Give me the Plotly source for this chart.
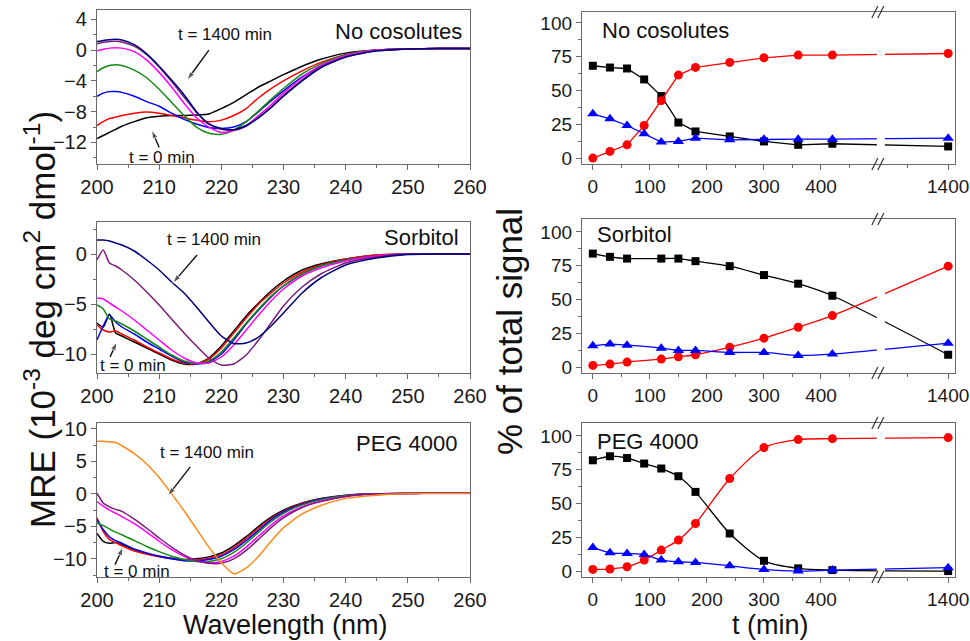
import plotly.graph_objects as go

# ---------------- data: CD spectra (MRE, 10^-3 deg cm^2 dmol^-1) ----------------
WL = [200, 201, 202, 203, 204, 206, 208, 210, 212, 214, 216, 218, 220, 222, 224,
      226, 228, 230, 233, 236, 240, 245, 250, 255, 260]

# No cosolutes
nc_black = [-11.5, -11.1, -10.7, -10.3, -9.9, -9.3, -8.8, -8.6, -8.5, -8.5, -8.45, -8.3, -7.6, -6.8, -5.8,
            -4.8, -4.0, -3.2, -2.1, -1.2, -0.4, 0.0, 0.15, 0.2, 0.2]
nc_red = [-9.8, -9.3, -8.9, -8.7, -8.5, -8.2, -8.05, -8.2, -8.5, -8.8, -9.1, -9.3, -9.1, -8.5, -7.6,
          -6.2, -5.0, -4.0, -2.7, -1.6, -0.6, 0.0, 0.15, 0.2, 0.2]
nc_blue = [-6.0, -5.6, -5.4, -5.4, -5.5, -6.0, -6.7, -7.3, -8.2, -9.0, -9.6, -10.05, -10.2, -10.0, -9.3,
           -8.0, -6.6, -5.3, -3.5, -2.1, -0.8, 0.0, 0.15, 0.2, 0.2]
nc_green = [-2.8, -2.3, -2.0, -1.9, -2.0, -2.6, -3.6, -5.1, -6.8, -8.5, -10.0, -10.8, -10.95, -10.4, -9.3,
            -7.9, -6.4, -5.0, -3.1, -1.8, -0.6, 0.0, 0.15, 0.2, 0.2]
nc_magenta = [-0.1, 0.1, 0.25, 0.3, 0.25, -0.2, -1.3, -2.9, -4.8, -6.9, -8.8, -10.0, -10.7, -10.45, -9.8,
              -8.5, -7.1, -5.6, -3.6, -2.0, -0.7, 0.0, 0.15, 0.2, 0.2]
nc_purple = [0.8, 1.0, 1.1, 1.15, 1.05, 0.5, -0.6, -2.2, -4.1, -6.1, -8.1, -9.6, -10.3, -10.4, -9.9,
             -8.7, -7.4, -5.9, -3.9, -2.2, -0.9, -0.1, 0.15, 0.2, 0.2]
nc_navy = [1.1, 1.25, 1.35, 1.4, 1.3, 0.7, -0.5, -2.1, -3.9, -5.8, -8.0, -9.6, -10.2, -10.35, -9.8,
           -8.8, -7.5, -6.0, -4.0, -2.3, -0.9, -0.1, 0.15, 0.2, 0.2]

# Sorbitol
so_black = [-6.9, -7.3, -6.0, -7.9, -8.2, -8.8, -9.4, -10.0, -10.6, -11.0, -11.0, -10.4, -9.2, -7.7, -6.2,
            -4.9, -3.7, -2.7, -1.6, -1.0, -0.5, -0.1, 0.0, 0.0, 0.0]
so_red = [-7.1, -7.6, -7.8, -7.7, -8.0, -8.6, -9.3, -9.9, -10.5, -10.9, -11.0, -10.5, -9.4, -7.9, -6.4,
          -5.0, -3.9, -2.9, -1.8, -1.1, -0.5, -0.1, 0.0, 0.0, 0.0]
so_blue = [-8.6, -7.2, -6.1, -6.8, -7.3, -8.0, -8.8, -9.5, -10.2, -10.8, -11.0, -10.8, -10.0, -8.6, -7.0,
           -5.6, -4.3, -3.2, -2.0, -1.2, -0.6, -0.2, 0.0, 0.0, 0.0]
so_green = [-5.1, -5.5, -6.5, -6.7, -7.0, -7.7, -8.5, -9.3, -10.1, -10.7, -10.95, -10.7, -9.8, -8.4, -6.9,
            -5.5, -4.2, -3.2, -2.0, -1.2, -0.6, -0.2, 0.0, 0.0, 0.0]
so_magenta = [-4.4, -4.5, -4.9, -5.3, -5.7, -6.6, -7.6, -8.6, -9.6, -10.4, -10.9, -10.9, -10.3, -9.1, -7.6,
              -6.1, -4.7, -3.5, -2.2, -1.4, -0.7, -0.2, 0.0, 0.0, 0.0]
so_purple = [-0.6, 0.4, -0.9, -1.2, -1.6, -2.6, -3.8, -5.1, -6.5, -7.9, -9.2, -10.4, -11.1, -11.0, -10.1,
             -8.6, -6.9, -5.2, -3.3, -2.0, -0.9, -0.3, 0.0, 0.0, 0.0]
so_navy = [1.4, 1.4, 1.3, 1.1, 0.9, 0.3, -0.6, -1.6, -2.8, -3.9, -5.3, -6.8, -8.2, -8.95, -8.9,
           -8.3, -7.2, -5.9, -3.9, -2.4, -1.1, -0.4, -0.05, 0.0, 0.0]

# PEG 4000
pe_black = [-6.1, -7.3, -7.6, -7.5, -7.8, -8.6, -9.2, -9.6, -9.9, -10.1, -10.0, -9.7, -9.1, -8.0, -6.6,
            -5.0, -3.6, -2.5, -1.4, -0.7, -0.2, 0.0, 0.05, 0.1, 0.1]
pe_red = [-3.7, -5.8, -7.0, -7.5, -8.0, -8.8, -9.3, -9.7, -10.0, -10.2, -10.2, -9.9, -9.4, -8.3, -6.9,
          -5.3, -3.8, -2.7, -1.5, -0.8, -0.3, 0.0, 0.05, 0.1, 0.1]
pe_blue = [-4.0, -5.5, -6.6, -7.2, -7.6, -8.5, -9.1, -9.6, -10.0, -10.3, -10.3, -10.1, -9.6, -8.6, -7.2,
           -5.6, -4.0, -2.8, -1.6, -0.8, -0.3, 0.0, 0.05, 0.1, 0.1]
pe_green = [-4.5, -4.9, -5.4, -5.9, -6.3, -7.2, -8.1, -8.9, -9.6, -10.1, -10.4, -10.4, -10.0, -9.0, -7.6,
            -5.9, -4.3, -3.0, -1.7, -0.9, -0.3, 0.0, 0.05, 0.1, 0.1]
pe_magenta = [-1.2, -1.9, -2.5, -3.0, -3.5, -4.6, -5.9, -7.3, -8.6, -9.6, -10.3, -10.6, -10.4, -9.6, -8.2,
              -6.5, -4.8, -3.4, -2.0, -1.1, -0.4, 0.0, 0.05, 0.1, 0.1]
pe_purple = [0.1, -1.4, -2.0, -2.4, -2.7, -3.9, -5.3, -6.8, -8.2, -9.4, -10.3, -10.7, -10.7, -10.0, -8.7,
             -7.0, -5.2, -3.7, -2.1, -1.2, -0.4, 0.0, 0.05, 0.1, 0.1]
pe_orange = [8.1, 8.1, 8.0, 7.9, 7.4, 6.2, 4.6, 2.5, 0.0, -2.6, -5.4, -8.2, -10.6, -12.3, -11.4,
             -9.6, -7.3, -5.2, -3.1, -1.8, -0.7, -0.2, 0.0, 0.05, 0.05]

# ---------------- data: % of total signal vs time ----------------
T_NC = [0, 30, 60, 90, 120, 150, 180, 240, 300, 360, 420, 1400]
nc_sq = [68.3, 67.0, 66.3, 58.2, 45.9, 26.3, 19.7, 16.0, 12.3, 9.8, 10.6, 8.6]
nc_ci = [0.0, 4.9, 9.8, 24.1, 42.5, 61.4, 67.1, 70.8, 74.2, 76.2, 76.2, 77.4]
nc_tr = [32.7, 29.0, 24.1, 17.9, 11.8, 12.3, 14.7, 13.5, 14.0, 14.0, 14.0, 14.7]

T_SO = [0, 30, 60, 120, 150, 180, 240, 300, 360, 420, 1400]
so_sq = [84.0, 81.6, 80.3, 80.3, 80.3, 78.4, 74.7, 68.1, 61.7, 52.8, 9.1]
so_ci = [1.2, 2.2, 3.7, 5.9, 7.6, 9.1, 14.7, 21.4, 29.5, 38.1, 74.7]
so_tr = [15.7, 17.0, 16.2, 14.0, 12.3, 12.3, 10.8, 10.8, 8.6, 9.6, 17.7]

T_PE = [0, 30, 60, 90, 120, 150, 180, 240, 300, 360, 420, 1400]
pe_sq = [82.0, 85.0, 83.7, 79.6, 75.9, 70.2, 58.6, 27.8, 7.6, 2.0, 0.7, 0.0]
pe_ci = [1.2, 1.5, 3.2, 8.1, 15.5, 22.9, 35.2, 68.5, 91.4, 97.3, 98.0, 98.8]
pe_tr = [17.5, 13.5, 13.0, 12.3, 8.1, 6.9, 6.4, 3.9, 1.2, 0.0, 0.7, 2.5]

X_TICKS_T = [0, 100, 200, 300, 400, 1400]

# ---------------- broken time axis ----------------
BREAK_POS = 505      # axis position of the break
LAST_POS = 623       # axis position used for t = 1400 min


def tpos(t):
    return t if t <= BREAK_POS else LAST_POS + (t - 1400)


FONT = "Liberation Sans, Arial, sans-serif"
COL = dict(black="#000000", red="#ff0000", blue="#0000ff", green="#138a13",
           magenta="#ff00ff", purple="#7a1a7a", navy="#00007a", orange="#ff8a1a")

fig = go.Figure()

spectra = [
    ("x", "y", [("black", nc_black), ("red", nc_red), ("blue", nc_blue), ("green", nc_green),
                ("magenta", nc_magenta), ("purple", nc_purple), ("navy", nc_navy)]),
    ("x2", "y2", [("black", so_black), ("red", so_red), ("blue", so_blue), ("green", so_green),
                  ("magenta", so_magenta), ("purple", so_purple), ("navy", so_navy)]),
    ("x3", "y3", [("black", pe_black), ("red", pe_red), ("blue", pe_blue), ("green", pe_green),
                  ("magenta", pe_magenta), ("purple", pe_purple), ("orange", pe_orange)]),
]
for xa, ya, curves in spectra:
    for cname, vals in curves:
        fig.add_trace(go.Scatter(x=WL, y=vals, xaxis=xa, yaxis=ya, mode="lines",
                                 line=dict(color=COL[cname], width=1.5, shape="spline", smoothing=0.6),
                                 showlegend=False, hoverinfo="skip"))

kinetics = [
    ("x4", "y4", T_NC, nc_sq, nc_ci, nc_tr, "linear"),
    ("x5", "y5", T_SO, so_sq, so_ci, so_tr, "spline"),
    ("x6", "y6", T_PE, pe_sq, pe_ci, pe_tr, "spline"),
]
for xa, ya, T, sq, ci, tr, shape in kinetics:
    xs = [tpos(t) for t in T]
    for vals, cname, sym, size in [(sq, "black", "square", 8), (ci, "red", "circle", 9),
                                   (tr, "blue", "triangle-up", 10)]:
        fig.add_trace(go.Scatter(x=xs, y=vals, xaxis=xa, yaxis=ya, mode="lines+markers",
                                 line=dict(color=COL[cname], width=1.3, shape=shape, smoothing=0.7),
                                 marker=dict(symbol=sym, size=size, color=COL[cname]),
                                 showlegend=False, hoverinfo="skip"))

# arrows pointing at t = 1400 min and t = 0 min curves (tail -> head, in data units)
ARROWS = [
    ("x", "y", (218.0, 0.0), (214.5, -3.9)),
    ("x", "y", (210.0, -12.65), (208.8, -10.4)),
    ("x2", "y2", (216.1, -0.1), (212.2, -2.9)),
    ("x2", "y2", (202.1, -10.3), (203.2, -8.8)),
    ("x3", "y3", (215.0, 4.15), (211.4, -0.3)),
    ("x3", "y3", (202.9, -10.9), (204.2, -8.2)),
]
for xa, ya, tail, head in ARROWS:
    fig.add_trace(go.Scatter(x=[tail[0], head[0]], y=[tail[1], head[1]], xaxis=xa, yaxis=ya,
                             mode="lines+markers", line=dict(color="#111", width=1.4),
                             marker=dict(symbol="arrow", size=[0, 9], color="#111",
                                         angleref="previous"),
                             showlegend=False, hoverinfo="skip"))

H = 641.0
W = 970.0


def ydom(top_px, bot_px):
    return [1 - bot_px / H, 1 - top_px / H]


LX = [97 / W, 470 / W]
RX = [582 / W, 955 / W]
AX_LINE = "#6a6a6a"
TICKFONT_L = dict(family=FONT, size=20, color="#1a1a1a")
TICKFONT_R = dict(family=FONT, size=19, color="#1a1a1a")

common = dict(showline=True, linecolor=AX_LINE, linewidth=1.3, mirror=True, ticks="outside",
              ticklen=5, tickwidth=1.2, tickcolor=AX_LINE, showgrid=False, zeroline=False,
              automargin=False)
minor_common = dict(ticks="outside", ticklen=3, tickwidth=1.1, tickcolor=AX_LINE, showgrid=False)

lay = dict(width=970, height=641, margin=dict(l=0, r=0, t=0, b=0, autoexpand=False),
           paper_bgcolor="white", plot_bgcolor="white", showlegend=False)

left_y = [([-14.8, 5.2], 4, 4, 2, ydom(10, 164)),
          ([-11.9, 3.2], 5, 0, 2.5, ydom(222, 373)),
          ([-12.8, 10.9], 5, 0, 2.5, ydom(423, 577))]
for i, (rng, dt, t0, mdt, dom) in enumerate(left_y):
    n = "" if i == 0 else str(i + 1)
    lay["xaxis" + n] = dict(common, domain=LX, range=[200, 260], dtick=10, tick0=200,
                            tickfont=TICKFONT_L, minor=dict(minor_common, dtick=5), anchor="y" + n)
    lay["yaxis" + n] = dict(common, domain=dom, range=rng, dtick=dt, tick0=t0,
                            tickfont=TICKFONT_L, minor=dict(minor_common, dtick=mdt), anchor="x" + n)

right_y = [ydom(12, 164), ydom(219, 373), ydom(423, 577)]
right_rng = [[-4.4, 108.1], [-4.4, 109.6], [-4.4, 109.6]]
for i in range(3):
    n = str(i + 4)
    lay["xaxis" + n] = dict(common, domain=RX, range=[-19, 635], tickmode="array",
                            tickvals=[tpos(t) for t in X_TICKS_T],
                            ticktext=[str(t) for t in X_TICKS_T], tickfont=TICKFONT_R,
                            minor=dict(minor_common, tickmode="array",
                                       tickvals=[50, 150, 250, 350, 450, 551]),
                            anchor="y" + n)
    lay["yaxis" + n] = dict(common, domain=right_y[i], range=right_rng[i], dtick=25, tick0=0,
                            tickfont=TICKFONT_R, minor=dict(minor_common, dtick=12.5), anchor="x" + n)

fig.update_layout(**lay)

# ---------------- annotations ----------------
ann = []
TF = dict(family=FONT, size=17, color="#111")
LF = dict(family=FONT, size=22, color="#111")


def text(xr, yr, x, y, s, font, xanchor="center"):
    ann.append(dict(xref=xr, yref=yr, x=x, y=y, text=s, showarrow=False, font=font,
                    xanchor=xanchor, yanchor="middle"))


# left panels
text("x", "y", 220.6, 2.0, "t = 1400 min", TF)
text("x", "y", 210.5, -13.95, "t = 0 min", TF)
text("x domain", "y domain", 0.985, 0.86, "No cosolutes", LF, "right")

text("x2", "y2", 218.8, 1.5, "t = 1400 min", TF)
text("x2", "y2", 205.8, -11.1, "t = 0 min", TF)
text("x2 domain", "y2 domain", 0.977, 0.9, "Sorbitol", LF, "right")

text("x3", "y3", 217.7, 6.3, "t = 1400 min", TF)
text("x3", "y3", 206.4, -12.0, "t = 0 min", TF)
text("x3 domain", "y3 domain", 0.972, 0.87, "PEG 4000", LF, "right")

# right panels
text("x4 domain", "y4 domain", 0.048, 0.88, "No cosolutes", LF, "left")
text("x5 domain", "y5 domain", 0.035, 0.9, "Sorbitol", LF, "left")
text("x6 domain", "y6 domain", 0.035, 0.88, "PEG 4000", LF, "left")

# axis titles
TITLE_V = dict(family=FONT, size=35, color="#111")
TITLE_H = dict(family=FONT, size=27, color="#111")
ann.append(dict(xref="paper", yref="paper", x=40 / W, y=1 - 320 / H,
                text="MRE (10<sup>-3</sup> deg cm<sup>2</sup> dmol<sup>-1</sup>)",
                showarrow=False, textangle=-90, font=TITLE_V, xanchor="center", yanchor="middle"))
ann.append(dict(xref="paper", yref="paper", x=509 / W, y=1 - 332 / H, text="% of total signal",
                showarrow=False, textangle=-90, font=TITLE_V, xanchor="center", yanchor="middle"))
ann.append(dict(xref="paper", yref="paper", x=285 / W, y=0, text="Wavelength (nm)",
                showarrow=False, font=TITLE_H, xanchor="center", yanchor="bottom", borderpad=0))
ann.append(dict(xref="paper", yref="paper", x=770 / W, y=0, text="t (min)",
                showarrow=False, font=TITLE_H, xanchor="center", yanchor="bottom", borderpad=0))

fig.update_layout(annotations=ann)

# ---------------- axis break marks ----------------
shapes = []
for n in ["4", "5", "6"]:
    shapes.append(dict(type="rect", xref="x" + n, yref="y" + n + " domain", xsizemode="pixel",
                       xanchor=BREAK_POS, x0=-4, x1=4, y0=0.012, y1=0.988,
                       fillcolor="white", line=dict(width=0), layer="above"))
    for yd in [0, 1]:
        for dx in [-6, 0]:
            shapes.append(dict(type="line", xref="x" + n, yref="y" + n + " domain",
                               xsizemode="pixel", xanchor=BREAK_POS, x0=dx - 3, x1=dx + 3,
                               ysizemode="pixel", yanchor=yd, y0=-6, y1=6,
                               line=dict(color="#333", width=1.2), layer="above"))
fig.update_layout(shapes=shapes)

fig.write_html("out.html")
